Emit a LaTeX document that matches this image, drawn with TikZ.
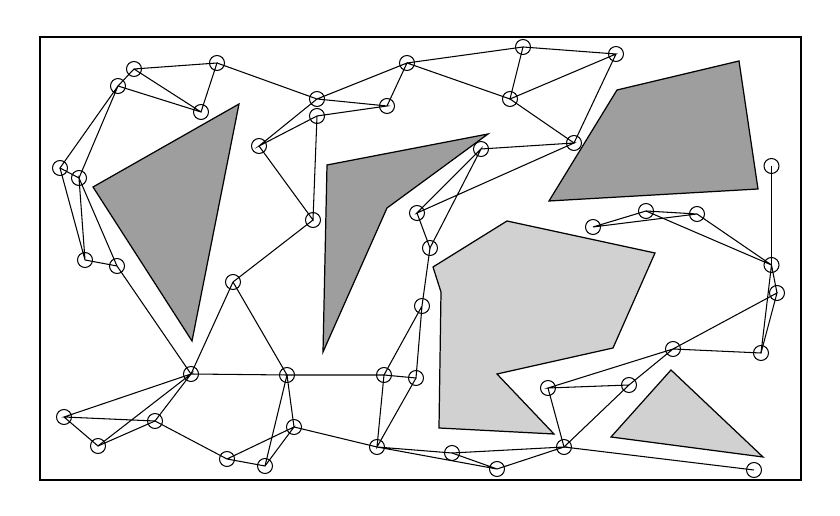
\documentclass[tikz,border=0pt]{standalone}
\usepackage{tikz}

\tikzset{
	vtx/.style={circle, draw, black, line width=0.6pt, inner sep=0pt, minimum size=3mm},
	rib/.style={black, line width=0.6pt},
	darkobst/.style={draw=black, line width=0.7pt, fill=black!38},
	lightobst/.style={draw=black, line width=0.7pt, fill=black!18}
}

\begin{document}
\begin{tikzpicture}[x=0.02cm, y=-0.02cm]
				\useasboundingbox (0,0) rectangle (840,516);
				% Рамка
				\draw[line width=0.9pt] (40,37) rectangle (801,480);
				
				% Препятствия
				\draw[darkobst] (93,187) -- (239,104) -- (192,341) -- cycle;
				\draw[darkobst] (327,165) -- (488,134) -- (387,208) -- (323,352) -- cycle;
				\draw[darkobst] (617,90) -- (739,61) -- (758,189) -- (549,201) -- cycle;
				\draw[lightobst] (507,221) -- (655,253) -- (613,348) -- (497,374) -- (554,434) -- (439,428) -- (441,292) -- (433,267) -- cycle;
				\draw[lightobst] (671,370) -- (611,437) -- (763,457) -- cycle;
				
				% Вершины графа
				\node[vtx] (a) at (134,69) {};
				\node[vtx] (b) at (217,63) {};
				\node[vtx] (c) at (118,86) {};
				\node[vtx] (d) at (201,112) {};
				\node[vtx] (e) at (60,168) {};
				\node[vtx] (f) at (79,178) {};
				\node[vtx] (g) at (85,260) {};
				\node[vtx] (h) at (117,266) {};
				\node[vtx] (i) at (259,146) {};
				\node[vtx] (j) at (317,99) {};
				\node[vtx] (k) at (317,116) {};
				\node[vtx] (l) at (387,106) {};
				\node[vtx] (m) at (407,63) {};
				\node[vtx] (n) at (523,47) {};
				\node[vtx] (o) at (510,99) {};
				\node[vtx] (p) at (574,143) {};
				\node[vtx] (q) at (616,54) {};
				\node[vtx] (r) at (481,149) {};
				\node[vtx] (s) at (417,213) {};
				\node[vtx] (t) at (430,248) {};
				\node[vtx] (u) at (313,220) {};
				\node[vtx] (G) at (422,306) {};
				\node[vtx] (v) at (233,282) {};
				\node[vtx] (w) at (191,374) {};
				\node[vtx] (x) at (287,375) {};
				\node[vtx] (y) at (64,417) {};
				\node[vtx] (z) at (155,421) {};
				\node[vtx] (A) at (98,446) {};
				\node[vtx] (B) at (227,459) {};
				\node[vtx] (C) at (265,466) {};
				\node[vtx] (D) at (294,427) {};
				\node[vtx] (E) at (384,375) {};
				\node[vtx] (F) at (416,378) {};
				\node[vtx] (H) at (377,447) {};
				\node[vtx] (I) at (452,453) {};
				\node[vtx] (J) at (497,469) {};
				\node[vtx] (K) at (564,447) {};
				\node[vtx] (L) at (548,388) {};
				\node[vtx] (M) at (629,385) {};
				\node[vtx] (N) at (673,349) {};
				\node[vtx] (O) at (777,293) {};
				\node[vtx] (P) at (761,353) {};
				\node[vtx] (Q) at (771.5,265) {};
				\node[vtx] (R) at (754,470) {};
				\node[vtx] (S) at (593,227) {};
				\node[vtx] (T) at (646,211) {};
				\node[vtx] (U) at (697,214) {};
				\node[vtx] (V) at (771.5,166) {};
				
				% Рёбра
				\draw[rib] (a.center) -- (b.center) -- (d.center) -- (a.center) -- (c.center) -- (d.center);
				\draw[rib] (b.center) -- (j.center) -- (l.center) -- (k.center) -- (i.center) -- (j.center) -- (m.center) -- (l.center);
				\draw[rib] (c.center) -- (e.center) -- (f.center) -- (c.center);
				\draw[rib] (e.center) -- (g.center) -- (f.center) -- (h.center) -- (g.center);
				\draw[rib] (h.center) -- (w.center);
				\draw[rib] (i.center) -- (u.center) -- (k.center);
				\draw[rib] (u.center) -- (v.center);
				\draw[rib] (m.center) -- (n.center) -- (o.center) -- (m.center);
				\draw[rib] (n.center) -- (q.center) -- (o.center) -- (p.center) -- (q.center);
				\draw[rib] (r.center) -- (p.center) -- (s.center) -- (r.center) -- (t.center) -- (s.center);
				\draw[rib] (t.center) -- (G.center) -- (E.center) -- (F.center) -- (G.center);
				\draw[rib] (x.center) -- (E.center) -- (H.center) -- (F.center);
				\draw[rib] (v.center) -- (w.center) -- (x.center) -- (v.center);
				\draw[rib] (w.center) -- (y.center) -- (z.center) -- (w.center) -- (A.center) -- (y.center);
				\draw[rib] (A.center) -- (z.center) -- (B.center) -- (C.center) -- (D.center) -- (B.center);
				\draw[rib] (x.center) -- (C.center);
				\draw[rib] (x.center) -- (D.center) -- (H.center);
				\draw[rib] (H.center) -- (I.center) -- (J.center) -- (H.center);
				\draw[rib] (I.center) -- (K.center) -- (J.center);
				\draw[rib] (L.center) -- (K.center) -- (M.center) -- (L.center) -- (N.center) -- (M.center);
				\draw[rib] (K.center) -- (R.center);
				\draw[rib] (N.center) -- (O.center) -- (P.center) -- (N.center);
				\draw[rib] (O.center) -- (Q.center) -- (P.center);
				\draw[rib] (V.center) -- (Q.center);
				\draw[rib] (S.center) -- (T.center) -- (U.center) -- (S.center);
				\draw[rib] (T.center) -- (Q.center) -- (U.center);
			\end{tikzpicture}
\end{document}
